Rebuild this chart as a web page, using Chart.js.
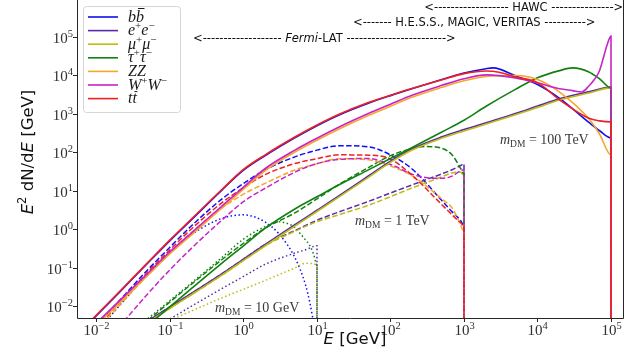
<!DOCTYPE html>
<html>
<head>
<meta charset="utf-8">
<title>Gamma-ray spectra from dark matter annihilation</title>
<script src="https://cdn.jsdelivr.net/npm/chart.js@4.4.1/dist/chart.umd.min.js"></script>
<style>
  body { margin: 0; background: #ffffff; }
  canvas { display: block; }
</style>
</head>
<body>
<canvas id="spectra" width="640" height="360"></canvas>
<script>
// E^2 dN/dE [GeV] against E [GeV].
// One list of [E, value] per channel and DM mass; the drop to zero at E = m_DM is the last pair.

// m_DM = 100 TeV (solid)
const bb_100TeV = [[0.008, 0.00365], [0.02, 0.0216], [0.05, 0.131], [0.1, 0.503], [0.2, 1.82], [0.5, 9.98], [1, 34.1], [2, 83.1], [5, 237], [10, 488], [20, 927], [50, 1870], [100, 2950], [200, 4500], [500, 7700], [1000, 11400], [2000, 14800], [2500, 15500], [5000, 9700], [1e4, 5770], [2e4, 2510], [5e4, 594], [7e4, 361], [1e5, 235], [1e5, 1e-4]];
const ee_100TeV = [[0.05, 0.0041], [0.1, 0.0095], [0.2, 0.0218], [0.5, 0.0674], [1, 0.165], [2, 0.405], [5, 1.30], [10, 3.09], [20, 7.4], [50, 24], [100, 58.6], [200, 124], [500, 250], [1000, 386], [2000, 580], [5000, 1010], [1e4, 1580], [2e4, 2450], [5e4, 3700], [1e5, 4900], [1e5, 1e-4]];
const mumu_100TeV = [[0.05, 0.00379], [0.1, 0.00877], [0.2, 0.0202], [0.5, 0.0624], [1, 0.153], [2, 0.375], [5, 1.20], [10, 2.86], [20, 6.86], [50, 22.2], [100, 54.3], [200, 115], [500, 232], [1000, 357], [2000, 537], [5000, 936], [1e4, 1460], [2e4, 2270], [5e4, 3450], [1e5, 4680], [1e5, 1e-4]];
const tautau_100TeV = [[0.05, 0.00313], [0.1, 0.0096], [0.2, 0.0295], [0.5, 0.127], [1, 0.368], [2, 1.07], [5, 3.33], [10, 6.9], [20, 14.2], [50, 34.7], [100, 68.2], [200, 134], [500, 335], [1000, 674], [2000, 1560], [5000, 4280], [1e4, 8610], [2e4, 13200], [3e4, 15500], [5e4, 12200], [7e4, 8060], [1e5, 4680], [1e5, 1e-4]];
const ZZ_100TeV = [[0.01, 0.0032], [0.02, 0.0115], [0.05, 0.0631], [0.1, 0.228], [0.2, 0.733], [0.5, 3.43], [1, 11.0], [2, 33.9], [5, 101], [10, 205], [20, 401], [50, 898], [100, 1570], [200, 2715], [500, 4850], [1000, 7190], [2000, 9310], [5000, 9880], [1e4, 7780], [2e4, 3660], [5e4, 738], [7e4, 292], [1e5, 85], [1e5, 1e-4]];
const WW_100TeV = [[0.01, 0.00362], [0.02, 0.0130], [0.05, 0.0711], [0.1, 0.257], [0.2, 0.826], [0.5, 3.86], [1, 12.4], [2, 38.2], [5, 113], [10, 231], [20, 452], [50, 1010], [100, 1770], [200, 3060], [500, 5470], [1000, 8110], [2000, 10200], [5000, 8560], [1e4, 6350], [2e4, 4440], [3e4, 3980], [4e4, 3680], [5e4, 5240], [6e4, 7960], [7e4, 13300], [8e4, 31700], [9e4, 67800], [1e5, 105000], [1e5, 1e-4]];
const tt_100TeV = [[0.008, 0.0038], [0.02, 0.0225], [0.05, 0.136], [0.1, 0.524], [0.2, 1.90], [0.5, 10.4], [1, 35.5], [2, 86.6], [5, 247], [10, 508], [20, 966], [50, 1950], [100, 3010], [200, 4570], [500, 7600], [1000, 11000], [2000, 12900], [3000, 12000], [5000, 8980], [1e4, 6430], [2e4, 2280], [5e4, 760], [7e4, 650], [1e5, 612], [1e5, 1e-4]];

// m_DM = 1 TeV (dashed)
const bb_1TeV = [[0.01, 0.00303], [0.02, 0.0131], [0.05, 0.0881], [0.1, 0.339], [0.2, 1.26], [0.5, 5.91], [1, 15.4], [2, 35.1], [5, 75.5], [10, 113], [20, 147], [50, 138], [100, 84.6], [200, 35.5], [500, 5.53], [700, 2.72], [900, 1.68], [1000, 1.22], [1000, 1e-4]];
const ee_1TeV = [[0.05, 0.0041], [0.1, 0.0095], [0.2, 0.0218], [0.5, 0.0674], [1, 0.165], [2, 0.405], [5, 0.908], [10, 1.70], [20, 2.80], [50, 5.24], [100, 8.67], [200, 14.3], [500, 27.3], [700, 35.3], [900, 44.9], [1000, 49.7], [1000, 1e-4]];
const mumu_1TeV = [[0.05, 0.00379], [0.1, 0.00877], [0.2, 0.0202], [0.5, 0.0624], [1, 0.153], [2, 0.375], [5, 0.877], [10, 1.56], [20, 2.37], [50, 4.15], [100, 6.98], [200, 11.9], [500, 22.8], [700, 29.2], [900, 30.4], [1000, 24.2], [1000, 1e-4]];
const tautau_1TeV = [[0.05, 0.00425], [0.1, 0.0128], [0.2, 0.0382], [0.5, 0.157], [1, 0.428], [2, 1.07], [5, 2.64], [10, 6.12], [20, 14.5], [50, 39.8], [100, 81.1], [200, 125], [300, 140], [500, 126], [700, 82.1], [900, 37.7], [1000, 27.3], [1000, 1e-4]];
const ZZ_1TeV = [[0.01, 0.00237], [0.02, 0.0098], [0.05, 0.0643], [0.1, 0.235], [0.2, 0.851], [0.5, 3.47], [1, 8.11], [2, 15.7], [5, 34.3], [10, 49.7], [20, 67.4], [50, 63.5], [100, 43.5], [200, 23.9], [500, 6.09], [700, 3.39], [900, 1.28], [1000, 0.851], [1000, 1e-4]];
const WW_1TeV = [[0.02, 0.00278], [0.05, 0.0209], [0.1, 0.0877], [0.2, 0.329], [0.5, 1.67], [1, 5.18], [2, 11.7], [5, 30.2], [10, 50.6], [20, 64.6], [50, 68.2], [100, 47.9], [200, 26.5], [300, 21.9], [500, 20.9], [700, 24.1], [900, 33.1], [1000, 34.7], [1000, 1e-4]];
const tt_1TeV = [[0.01, 0.00265], [0.02, 0.0115], [0.05, 0.0773], [0.1, 0.290], [0.2, 1.05], [0.5, 4.73], [1, 11.9], [2, 26.4], [5, 50.6], [10, 67.8], [20, 85.1], [50, 83.6], [100, 66.2], [200, 24.2], [500, 4.30], [700, 2.27], [900, 1.46], [1000, 1.22], [1000, 1e-4]];

// m_DM = 10 GeV (dotted)
const bb_10GeV = [[0.01, 0.00209], [0.02, 0.00964], [0.05, 0.0686], [0.1, 0.257], [0.2, 0.741], [0.5, 1.88], [1, 2.35], [2, 1.50], [3, 0.769], [5, 0.182], [7, 0.0349], [8, 0.0122], [9, 0.00363]];
const ee_10GeV = [[0.1, 0.00462], [0.2, 0.0101], [0.5, 0.0280], [1, 0.0587], [2, 0.123], [5, 0.238], [7, 0.290], [10, 0.368], [10, 1e-4]];
const mumu_10GeV = [[0.1, 0.00425], [0.2, 0.00755], [0.5, 0.0161], [1, 0.0273], [2, 0.0466], [5, 0.0977], [7, 0.129], [9, 0.126], [10, 0.111], [10, 1e-4]];
const tautau_10GeV = [[0.05, 0.00471], [0.1, 0.0139], [0.2, 0.0410], [0.5, 0.178], [1, 0.550], [2, 1.18], [3, 1.55], [4, 1.39], [5, 1.09], [6, 0.738], [7, 0.518], [8, 0.371], [9, 0.220], [10, 0.118], [10, 1e-4]];

const channels = ['bb', 'ee', 'mumu', 'tautau', 'ZZ', 'WW', 'tt'];
const channelColors = ['#1010f0', '#5a2aa8', '#bcbc14', '#118011', '#f7a62a', '#c624c6', '#ee2020'];
const xTicks = [1e-2, 1e-1, 1, 10, 100, 1e3, 1e4, 1e5];
const yTicks = [1e-2, 1e-1, 1, 10, 100, 1e3, 1e4, 1e5];
const tickExponents = ['\u22122', '\u22121', '0', '1', '2', '3', '4', '5'];

const curves100TeV = [bb_100TeV, ee_100TeV, mumu_100TeV, tautau_100TeV, ZZ_100TeV, WW_100TeV, tt_100TeV];
const curves1TeV = [bb_1TeV, ee_1TeV, mumu_1TeV, tautau_1TeV, ZZ_1TeV, WW_1TeV, tt_1TeV];
const curves10GeV = [bb_10GeV, ee_10GeV, mumu_10GeV, tautau_10GeV];

const SERIF = '"Liberation Serif", "DejaVu Serif", serif';
const SANS = '"DejaVu Sans", sans-serif';

// build datasets in the order they are stacked (first = bottom)
const stacked = [];
function addGroup(curves, dash, width, tag) {
    curves.forEach((pts, i) => {
        stacked.push({
            label: channels[i] + ' ' + tag,
            data: pts.map(p => ({ x: p[0], y: p[1] })),
            borderColor: channelColors[i],
            borderWidth: width,
            borderDash: dash,
            pointRadius: 0,
            fill: false,
            cubicInterpolationMode: 'monotone'
        });
    });
}
addGroup(curves10GeV, [1.5, 2.5], 1.5, '10 GeV');
addGroup(curves1TeV, [5.5, 2.4], 1.5, '1 TeV');
addGroup(curves100TeV, [], 1.6, '100 TeV');
// Chart.js paints dataset 0 last, so hand them over top-first
const datasets = stacked.slice().reverse();

function runsWidth(ctx, runs) {
    let w = 0;
    runs.forEach(r => { ctx.font = r.font; w += ctx.measureText(r.t).width; });
    return w;
}

function drawRuns(ctx, runs, x, y) {
    let cx = x;
    runs.forEach(r => {
        ctx.font = r.font;
        const w = ctx.measureText(r.t).width;
        ctx.fillText(r.t, cx, y + (r.dy || 0));
        if (r.bar) {
            ctx.beginPath();
            ctx.lineWidth = 1;
            ctx.moveTo(cx + 2, y - r.bar);
            ctx.lineTo(cx + w + 0.5, y - r.bar);
            ctx.stroke();
        }
        cx += w;
    });
    return cx - x;
}

function powRuns(exp) {
    return [
        { t: '10', font: '15px ' + SERIF },
        { t: exp, font: '10.5px ' + SERIF, dy: -6.5 }
    ];
}

const IT = 'italic 16px ' + SERIF;
const SUP = '11px ' + SERIF;
const legendRuns = [
    [{ t: 'b', font: IT }, { t: 'b', font: IT, bar: 13 }],
    [{ t: 'e', font: IT }, { t: '+', font: SUP, dy: -6 }, { t: 'e', font: IT }, { t: '\u2212', font: SUP, dy: -6 }],
    [{ t: '\u03bc', font: IT }, { t: '+', font: SUP, dy: -6 }, { t: '\u03bc', font: IT }, { t: '\u2212', font: SUP, dy: -6 }],
    [{ t: '\u03c4', font: IT }, { t: '+', font: SUP, dy: -6 }, { t: '\u03c4', font: IT }, { t: '\u2212', font: SUP, dy: -6 }],
    [{ t: 'ZZ', font: IT }],
    [{ t: 'W', font: IT }, { t: '+', font: SUP, dy: -6 }, { t: 'W', font: IT }, { t: '\u2212', font: SUP, dy: -6 }],
    [{ t: 't', font: IT }, { t: 't', font: IT, bar: 11.5 }]
];

function massRuns(value) {
    return [
        { t: 'm', font: 'italic 14px ' + SERIF },
        { t: 'DM', font: '9.5px ' + SERIF, dy: 3 },
        { t: ' = ' + value, font: '14px ' + SERIF }
    ];
}

// "<----- label ----->" spans along the top
function drawSpan(ctx, x0, x1, labelRuns, cx, y) {
    const lw = runsWidth(ctx, labelRuns);
    const lx = cx - lw / 2;
    ctx.font = '11.5px ' + SANS;
    const dash = ctx.measureText('-').width;
    const gap = ctx.measureText(' ').width;
    const arrow = ctx.measureText('<').width;
    const nLeft = Math.max(1, Math.round((lx - gap - x0 - arrow) / dash));
    const nRight = Math.max(1, Math.round((x1 - (lx + lw) - gap - arrow) / dash));
    ctx.textAlign = 'right';
    ctx.fillText('<' + '-'.repeat(nLeft) + ' ', lx, y);
    ctx.textAlign = 'left';
    drawRuns(ctx, labelRuns, lx, y);
    ctx.font = '11.5px ' + SANS;
    ctx.fillText(' ' + '-'.repeat(nRight) + '>', lx + lw, y);
}

const decorations = {
    id: 'decorations',
    afterDraw(chart) {
        const ctx = chart.ctx;
        const a = chart.chartArea;
        const xs = chart.scales.x;
        const ys = chart.scales.y;
        ctx.save();
        ctx.strokeStyle = '#262626';
        ctx.fillStyle = '#262626';
        ctx.lineWidth = 1;
        // left, bottom and right edges of the frame (top is off the picture)
        ctx.beginPath();
        ctx.moveTo(a.left + 0.5, a.top);
        ctx.lineTo(a.left + 0.5, a.bottom + 0.5);
        ctx.lineTo(a.right - 0.5, a.bottom + 0.5);
        ctx.lineTo(a.right - 0.5, a.top);
        ctx.stroke();

        ctx.textAlign = 'left';
        ctx.textBaseline = 'alphabetic';
        ctx.fillStyle = '#303030';
        xTicks.forEach((v, i) => {
            const px = Math.round(xs.getPixelForValue(v)) + 0.5;
            ctx.beginPath();
            ctx.moveTo(px, a.bottom);
            ctx.lineTo(px, a.bottom + 4);
            ctx.stroke();
            const runs = powRuns(tickExponents[i]);
            drawRuns(ctx, runs, px - runsWidth(ctx, runs) / 2, a.bottom + 17);
        });
        yTicks.forEach((v, i) => {
            const py = Math.round(ys.getPixelForValue(v)) + 0.5;
            ctx.beginPath();
            ctx.moveTo(a.left - 4, py);
            ctx.lineTo(a.left, py);
            ctx.stroke();
            const runs = powRuns(tickExponents[i]);
            drawRuns(ctx, runs, a.left - 4 - runsWidth(ctx, runs), py + 5.5);
        });

        // axis titles
        ctx.fillStyle = '#111111';
        const xTitle = [
            { t: 'E', font: 'oblique 16.5px ' + SANS },
            { t: ' [GeV]', font: '16.5px ' + SANS }
        ];
        drawRuns(ctx, xTitle, 355 - runsWidth(ctx, xTitle) / 2, 344);
        const yTitle = [
            { t: 'E', font: 'oblique 16.5px ' + SANS },
            { t: '2', font: '11.5px ' + SANS, dy: -7 },
            { t: ' dN/d', font: '16.5px ' + SANS },
            { t: 'E', font: 'oblique 16.5px ' + SANS },
            { t: ' [GeV]', font: '16.5px ' + SANS }
        ];
        ctx.save();
        ctx.translate(33, 152);
        ctx.rotate(-Math.PI / 2);
        drawRuns(ctx, yTitle, -runsWidth(ctx, yTitle) / 2, 0);
        ctx.restore();

        // experiment ranges
        ctx.fillStyle = '#111111';
        drawSpan(ctx, 424, 623, [{ t: 'HAWC', font: '11.5px ' + SANS }], 530, 11);
        drawSpan(ctx, 351, 594, [{ t: 'H.E.S.S., MAGIC, VERITAS', font: '11.5px ' + SANS }], 468, 26);
        drawSpan(ctx, 192, 455, [
            { t: 'Fermi', font: 'oblique 11.5px ' + SANS },
            { t: '-LAT', font: '11.5px ' + SANS }
        ], 314, 42);

        // mass labels
        ctx.fillStyle = '#3a3a3a';
        drawRuns(ctx, massRuns('100 TeV'), 500, 144);
        drawRuns(ctx, massRuns('1 TeV'), 355, 225);
        drawRuns(ctx, massRuns('10 GeV'), 215, 312);

        // legend
        const bx = 83, by = 6, bw = 97, bh = 106;
        ctx.beginPath();
        ctx.roundRect(bx + 0.5, by + 0.5, bw, bh, 3);
        ctx.fillStyle = 'rgba(255,255,255,0.85)';
        ctx.fill();
        ctx.strokeStyle = '#d6d6d6';
        ctx.stroke();
        channelColors.forEach((c, i) => {
            const y = 17 + i * 13.6;
            ctx.beginPath();
            ctx.strokeStyle = c;
            ctx.lineWidth = 1.6;
            ctx.moveTo(88, y);
            ctx.lineTo(118, y);
            ctx.stroke();
            ctx.fillStyle = '#1a1a1a';
            ctx.strokeStyle = '#1a1a1a';
            drawRuns(ctx, legendRuns[i], 128, y + 4.5);
        });
        ctx.restore();
    }
};

new Chart(document.getElementById('spectra'), {
    type: 'line',
    data: { datasets: datasets },
    options: {
        responsive: false,
        devicePixelRatio: 1,
        animation: false,
        layout: { padding: { left: 77, right: 16, top: 0, bottom: 42 } },
        plugins: { legend: { display: false }, tooltip: { enabled: false } },
        scales: {
            x: { type: 'logarithmic', min: 0.00543, max: 1.503e5, display: false },
            y: { type: 'logarithmic', min: 0.00488, max: 9.04e5, display: false }
        }
    },
    plugins: [decorations]
});
</script>
</body>
</html>
